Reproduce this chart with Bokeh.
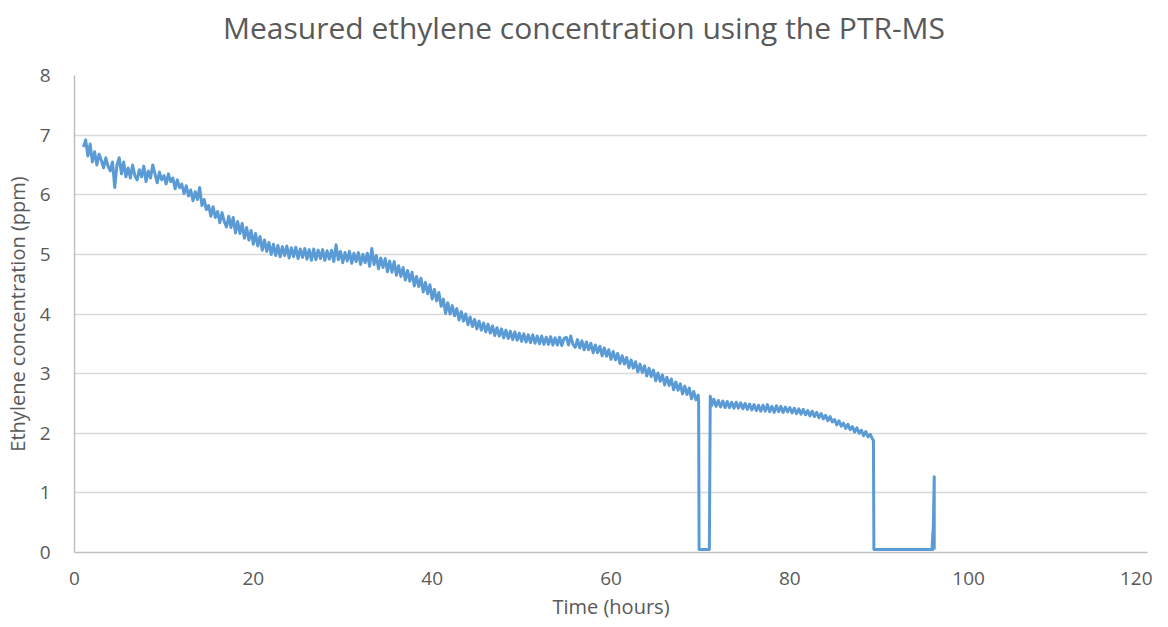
import numpy as np
from bokeh.plotting import figure
from bokeh.models import Range1d, FixedTicker, Div
from bokeh.layouts import column
from bokeh.embed import file_html
from bokeh.resources import INLINE

# ---- data ----
# first record: sampled every 0.25 h from 1.0 h
conc_a = [6.80, 6.92, 6.65, 6.85,  6.55, 6.72, 6.50, 6.68,  6.58, 6.45, 6.62, 6.48,
          6.40, 6.55, 6.12, 6.50,  6.62, 6.35, 6.55, 6.30,  6.45, 6.28, 6.50, 6.32,
          6.25, 6.42, 6.30, 6.48,  6.22, 6.40, 6.28, 6.50,  6.35, 6.20, 6.38, 6.25,
          6.32, 6.18, 6.35, 6.22,  6.28, 6.10, 6.25, 6.12,  6.18, 6.02, 6.15, 5.98,
          6.08, 5.90, 6.05, 5.92,  6.12, 5.82, 5.92, 5.75,  5.82, 5.64, 5.80, 5.62,
          5.72, 5.53, 5.70, 5.55,  5.46, 5.64, 5.45, 5.62,  5.36, 5.55, 5.35, 5.52,
          5.27, 5.45, 5.24, 5.40,  5.17, 5.35, 5.14, 5.30,  5.07, 5.24, 5.05, 5.20,
          5.00, 5.17, 4.98, 5.15,  4.96, 5.13, 4.98, 5.14,  4.94, 5.11, 4.96, 5.12,
          4.93, 5.09, 4.95, 5.10,  4.92, 5.08, 4.90, 5.09,  4.91, 5.07, 4.93, 5.08,
          4.90, 5.06, 4.92, 5.07,  4.88, 5.16, 4.91, 5.05,  4.86, 5.03, 4.89, 5.05,
          4.85, 5.02, 4.88, 5.03,  4.83, 5.00, 4.86, 5.02,  4.80, 5.10, 4.83, 4.98,
          4.76, 4.94, 4.78, 4.93,  4.71, 4.89, 4.70, 4.88,  4.65, 4.81, 4.63, 4.78,
          4.57, 4.73, 4.55, 4.70,  4.47, 4.63, 4.46, 4.60,  4.37, 4.53, 4.34, 4.49,
          4.25, 4.41, 4.22, 4.36,  4.13, 4.25, 4.01, 4.19,  4.00, 4.14, 3.97, 4.09,
          3.90, 4.04, 3.88, 4.00,  3.82, 3.95, 3.79, 3.91,  3.75, 3.88, 3.73, 3.85,
          3.70, 3.83, 3.68, 3.80,  3.64, 3.77, 3.63, 3.75,  3.60, 3.73, 3.59, 3.71,
          3.57, 3.70, 3.56, 3.68,  3.54, 3.67, 3.53, 3.65,  3.52, 3.65, 3.51, 3.63,
          3.50, 3.63, 3.49, 3.61,  3.49, 3.62, 3.48, 3.60,  3.48, 3.61, 3.47, 3.59,
          3.61, 3.48, 3.63, 3.49,  3.44, 3.57, 3.43, 3.55,  3.40, 3.53, 3.40, 3.51,
          3.35, 3.48, 3.35, 3.46,  3.30, 3.43, 3.29, 3.40,  3.24, 3.37, 3.23, 3.34,
          3.17, 3.30, 3.16, 3.27,  3.10, 3.23, 3.09, 3.20,  3.03, 3.16, 3.02, 3.13,
          2.96, 3.09, 2.95, 3.06,  2.88, 3.01, 2.87, 2.98,  2.81, 2.94, 2.80, 2.91,
          2.73, 2.86, 2.72, 2.83,  2.66, 2.79, 2.65, 2.76,  2.58, 2.70, 2.56, 2.64]
time_a = list(np.arange(len(conc_a)) * 0.25 + 1.0)

# first instrument gap
time_gap1 = [69.8, 69.85, 71.0, 71.1]
conc_gap1 = [2.55, 0.05, 0.05, 2.62]

# second record: sampled every 0.25 h from 71.25 h
conc_b = [2.46, 2.57, 2.45,
          2.55, 2.44, 2.54, 2.43,  2.53, 2.43, 2.52, 2.42,  2.52, 2.42, 2.51, 2.41,
          2.50, 2.40, 2.49, 2.39,  2.48, 2.38, 2.47, 2.37,  2.47, 2.37, 2.48, 2.36,
          2.45, 2.35, 2.46, 2.36,  2.45, 2.35, 2.44, 2.36,  2.43, 2.34, 2.42, 2.33,
          2.41, 2.32, 2.40, 2.31,  2.38, 2.29, 2.37, 2.28,  2.35, 2.26, 2.33, 2.24,
          2.30, 2.21, 2.28, 2.19,  2.23, 2.14, 2.21, 2.12,  2.17, 2.08, 2.15, 2.06,
          2.11, 2.02, 2.09, 2.00,  2.05, 1.96, 2.03, 1.94,  1.98, 1.90]
time_b = list(np.arange(len(conc_b)) * 0.25 + 71.25)

# second gap and final spike
time_tail = [89.35, 89.4, 95.9, 96.0, 96.0, 96.15, 96.15]
conc_tail = [1.88, 0.05, 0.05, 0.35, 0.05, 1.27, 0.05]

time = time_a + time_gap1 + time_b + time_tail
conc = conc_a + conc_gap1 + conc_b + conc_tail

x_ticks = [0, 20, 40, 60, 80, 100, 120]
y_ticks = [0, 1, 2, 3, 4, 5, 6, 7, 8]

TITLE = "Measured ethylene concentration using the PTR-MS"
X_LABEL = "Time (hours)"
Y_LABEL = "Ethylene concentration (ppm)"

TEXT = "#595959"
FONT = "Open Sans"

W = 1152
TITLE_H, XLAB_H = 56, 32
FIG_H = 535

title_div = Div(text=TITLE, width=W, height=TITLE_H, margin=0,
                styles={"font-family": FONT, "font-size": "30px", "color": TEXT,
                        "text-align": "center", "line-height": f"{TITLE_H}px",
                        "white-space": "nowrap", "padding-left": "16px",
                        "box-sizing": "border-box"})

p = figure(width=W, height=FIG_H, output_backend="svg", toolbar_location=None,
           x_range=Range1d(0, 120), y_range=Range1d(0, 8), margin=0,
           min_border_left=60, min_border_right=5,
           min_border_top=19, min_border_bottom=39)

p.line(time, conc, line_color="#5B9BD5", line_width=3.0, line_join="round")

p.outline_line_color = None
p.xgrid.grid_line_color = None
p.ygrid.grid_line_color = "#D9D9D9"
p.ygrid.grid_line_width = 1.5

p.xaxis.ticker = FixedTicker(ticks=x_ticks)
p.yaxis.ticker = FixedTicker(ticks=y_ticks)
for ax in (p.xaxis[0], p.yaxis[0]):
    ax.axis_line_color = "#BFBFBF"
    ax.axis_line_width = 1.5
    ax.major_tick_line_color = None
    ax.minor_tick_line_color = None
    ax.major_label_text_font = FONT
    ax.major_label_text_font_size = "19px"
    ax.major_label_text_color = TEXT
    ax.axis_label_text_font = FONT
    ax.axis_label_text_font_size = "20px"
    ax.axis_label_text_font_style = "normal"
    ax.axis_label_text_color = TEXT

p.yaxis.axis_label = Y_LABEL
p.xaxis.major_label_standoff = 13
p.yaxis.major_label_standoff = 18
p.yaxis.axis_label_standoff = 6

xlab_div = Div(text=X_LABEL, width=W, height=XLAB_H, margin=0,
               styles={"font-family": FONT, "font-size": "20px", "color": TEXT,
                       "text-align": "center", "line-height": f"{XLAB_H}px",
                       "white-space": "nowrap", "padding-left": "70px",
                       "box-sizing": "border-box"})

layout = column(title_div, p, xlab_div, spacing=0, margin=0)

open("out.html", "w").write(file_html(layout, INLINE))
